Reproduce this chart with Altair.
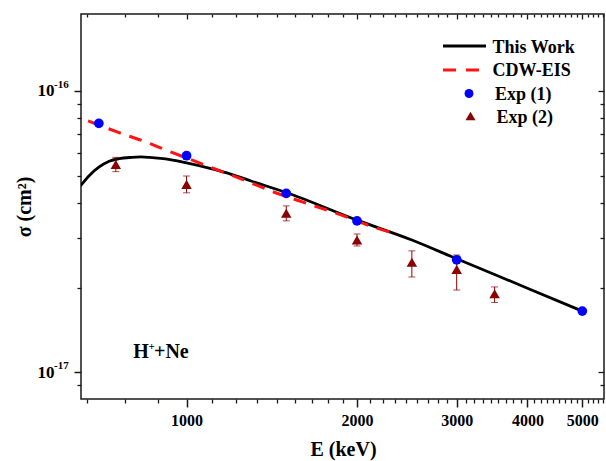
import altair as alt
import pandas as pd

# ---- data: cross sections (cm^2) vs. proton energy (keV) ----
work_energy = [650, 675, 700, 730, 760, 800, 830, 860, 900, 935, 1000, 1100, 1200,
               1300, 1500, 2000, 2500, 3000, 4000, 5000]
work_sigma = [4.60e-17, 5.02e-17, 5.35e-17, 5.62e-17, 5.74e-17, 5.80e-17, 5.82e-17,
              5.80e-17, 5.75e-17, 5.69e-17, 5.54e-17, 5.30e-17, 5.05e-17, 4.78e-17,
              4.35e-17, 3.47e-17, 2.95e-17, 2.53e-17, 1.99e-17, 1.65e-17]

cdw_energy = [670, 760, 850, 940, 1040, 1150, 1275, 1420, 1650, 1840, 2130, 2350]
cdw_sigma = [7.82e-17, 7.10e-17, 6.56e-17, 6.05e-17, 5.60e-17, 5.18e-17, 4.78e-17,
             4.38e-17, 3.95e-17, 3.67e-17, 3.29e-17, 3.10e-17]

exp1_energy = [700, 1000, 1500, 2000, 3000, 5000]
exp1_sigma = [7.66e-17, 5.88e-17, 4.32e-17, 3.45e-17, 2.51e-17, 1.65e-17]

exp2_energy = [750, 1000, 1500, 2000, 2500, 3000, 3500]
exp2_sigma = [5.47e-17, 4.65e-17, 3.67e-17, 2.95e-17, 2.46e-17, 2.32e-17, 1.90e-17]
exp2_high = [5.80e-17, 4.98e-17, 3.90e-17, 3.10e-17, 2.70e-17, 2.61e-17, 2.01e-17]
exp2_low = [5.16e-17, 4.34e-17, 3.45e-17, 2.81e-17, 2.18e-17, 1.96e-17, 1.77e-17]

x_major = [1000, 2000, 3000, 4000, 5000]
x_minor = [round(m * 1000 + j * 1000 / 9, 3) for m in range(0, 6) for j in range(1, 9)]
x_minor = [v for v in x_minor if 651 < v < 5461]
y_major = [1e-17, 1e-16]
y_minor = [9e-18] + [k * 1e-17 for k in range(2, 10)]
y_exponents = ["-17", "-16"]

legend_labels = ["This Work", "CDW-EIS", "Exp (1)", "Exp (2)"]
annotation = ["H", "+", "+Ne"]

FONT = "Liberation Serif"
INK = "#1a1a1a"
MAROON = "#8b0000"

work = pd.DataFrame({"E": work_energy, "sigma": work_sigma})
cdw = pd.DataFrame({"E": cdw_energy, "sigma": cdw_sigma})
exp1 = pd.DataFrame({"E": exp1_energy, "sigma": exp1_sigma})
exp2 = pd.DataFrame({"E": exp2_energy, "sigma": exp2_sigma,
                     "hi": exp2_high, "lo": exp2_low})
caps = pd.DataFrame({"E": exp2_energy + exp2_energy, "v": exp2_high + exp2_low})
expo = pd.DataFrame({"v": y_major, "t": y_exponents})

xs = alt.Scale(type="log", domain=[651, 5461], nice=False)
ys = alt.Scale(type="log", domain=[8.04e-18, 1.873e-16], nice=False)


def tick_axis(orient, values, size, offset=0):
    return alt.Axis(orient=orient, values=values, tickSize=size, offset=offset,
                    tickColor=INK, tickWidth=1.3, labels=False, domain=False,
                    grid=False, title=None)


bottom_major = alt.Axis(
    orient="bottom", values=x_major, tickSize=8, tickColor=INK, tickWidth=1.5,
    domain=False, grid=False, labelExpr="format(datum.value, 'd')",
    labelFont=FONT, labelFontSize=16, labelFontWeight="bold", labelColor="black",
    labelBaseline="alphabetic", labelPadding=18, labelOverlap=False, labelFlush=False,
    title="E (keV)", titleFont=FONT, titleFontSize=20, titleFontWeight="bold",
    titleColor="black", titleX=262, titleY=56, titleAlign="center",
    titleBaseline="alphabetic")

left_major = alt.Axis(
    orient="left", values=y_major, tickSize=7, tickColor=INK, tickWidth=1.5,
    domain=False, grid=False, labelExpr="'10'",
    labelFont=FONT, labelFontSize=17, labelFontWeight="bold", labelColor="black",
    labelPadding=20, labelOverlap=False, labelFlush=False,
    title="σ (cm²)", titleFont=FONT, titleFontSize=20, titleFontWeight="bold",
    titleColor="black", titleX=-51, titleY=192.5, titleAngle=270,
    titleAlign="center", titleBaseline="alphabetic")

# theory curves
this_work = alt.Chart(work).mark_line(
    color="black", strokeWidth=2.8, interpolate="monotone", clip=True
).encode(x=alt.X("E:Q", scale=xs, axis=bottom_major),
         y=alt.Y("sigma:Q", scale=ys, axis=left_major))

cdw_eis = alt.Chart(cdw).mark_line(
    color="#ff1414", strokeWidth=3, strokeDash=[13, 9], interpolate="monotone"
).encode(x=alt.X("E:Q", scale=xs, axis=tick_axis("bottom", x_minor, 4)),
         y=alt.Y("sigma:Q", scale=ys, axis=tick_axis("left", y_minor, 4)))

# experimental data with error bars
bars = alt.Chart(exp2).mark_rule(color=MAROON, strokeWidth=1).encode(
    x=alt.X("E:Q", scale=xs, axis=tick_axis("top", x_major, 5, -5)),
    y=alt.Y("lo:Q", scale=ys, axis=tick_axis("right", y_major, 6, -6)),
    y2="hi:Q")

bar_caps = alt.Chart(caps).mark_tick(
    color=MAROON, thickness=1, size=7, orient="horizontal"
).encode(x=alt.X("E:Q", scale=xs, axis=tick_axis("top", x_minor, 3, -3)),
         y=alt.Y("v:Q", scale=ys, axis=tick_axis("right", y_minor, 4, -4)))

triangles = alt.Chart(exp2).mark_point(
    shape="triangle-up", filled=True, size=110, color=MAROON, opacity=1
).encode(x=alt.X("E:Q", scale=xs, axis=None), y=alt.Y("sigma:Q", scale=ys, axis=None))

circles = alt.Chart(exp1).mark_point(
    shape="circle", filled=True, size=95, color="#0000ff", opacity=1
).encode(x=alt.X("E:Q", scale=xs, axis=None), y=alt.Y("sigma:Q", scale=ys, axis=None))

# exponents of the decade labels
exponents = alt.Chart(expo).mark_text(
    font=FONT, fontSize=11, fontWeight="bold", color="black", align="left",
    baseline="middle", dy=-6
).encode(x=alt.value(-27), y=alt.Y("v:Q", scale=ys, axis=None), text="t:N")

# legend
def legend_text(label, x, y):
    return alt.Chart(pd.DataFrame({"t": [label]})).mark_text(
        font=FONT, fontSize=18, fontWeight="bold", color="black", align="left",
        baseline="alphabetic"
    ).encode(x=alt.value(x), y=alt.value(y), text="t:N")


one = pd.DataFrame({"k": [0]})
leg_work = alt.Chart(one).mark_rule(color="black", strokeWidth=2.8).encode(
    x=alt.value(362), x2=alt.value(405), y=alt.value(32))
leg_cdw = alt.Chart(one).mark_rule(color="#ff1414", strokeWidth=3,
                                   strokeDash=[13, 10]).encode(
    x=alt.value(362), x2=alt.value(405), y=alt.value(56))
leg_exp1 = alt.Chart(one).mark_point(shape="circle", filled=True, size=80,
                                     color="#0000ff", opacity=1).encode(
    x=alt.value(388), y=alt.value(79.5))
leg_exp2 = alt.Chart(one).mark_point(shape="triangle-up", filled=True, size=100,
                                     color=MAROON, opacity=1).encode(
    x=alt.value(389.5), y=alt.value(102))

legend = [leg_work, leg_cdw, leg_exp1, leg_exp2,
          legend_text(legend_labels[0], 411.5, 38.5),
          legend_text(legend_labels[1], 411.5, 62),
          legend_text(legend_labels[2], 414, 85.5),
          legend_text(legend_labels[3], 415.5, 108.5)]

# collision system label
def note(label, x, y, size):
    return alt.Chart(pd.DataFrame({"t": [label]})).mark_text(
        font=FONT, fontSize=size, fontWeight="bold", color="black", align="left",
        baseline="alphabetic"
    ).encode(x=alt.value(x), y=alt.value(y), text="t:N")


system = [note(annotation[0], 52.3, 344, 20),
          note(annotation[1], 67.5, 336, 11),
          note(annotation[2], 73, 344, 20)]

chart = alt.layer(
    this_work, cdw_eis, bars, bar_caps, triangles, circles, exponents,
    *legend, *system
).resolve_axis(
    x="independent", y="independent"
).properties(
    width=523, height=385,
    padding={"left": 81, "top": 14, "right": 2, "bottom": 62},
    autosize=alt.AutoSizeParams(type="none"),
    background="white"
).configure_view(stroke=INK, strokeWidth=1.5)

chart.save("out.html", embed_options={"renderer": "svg", "actions": False})
